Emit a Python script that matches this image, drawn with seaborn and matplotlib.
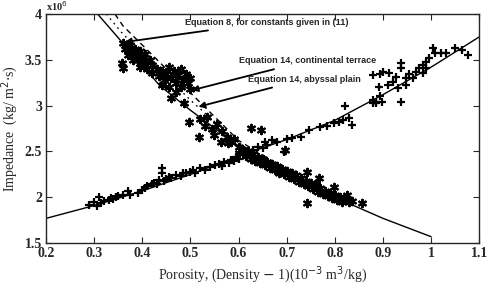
import numpy as np
import pandas as pd
import matplotlib
matplotlib.use("Agg")
import matplotlib.pyplot as plt
import seaborn as sns

# model curves (impedance in 1e6 kg/m^2/s)
eq8_x = [0.307, 0.36, 0.436, 0.5, 0.6, 0.7, 0.8, 0.9, 1.0]
eq8_y = [4.0, 3.68, 3.22, 2.95, 2.56, 2.27, 2.0, 1.77, 1.57]
cont_x = [0.343, 0.36, 0.45, 0.5, 0.6, 0.7, 0.8]
cont_y = [4.0, 3.87, 3.4, 3.14, 2.62, 2.3, 2.0]
abys_x = [0.325, 0.36, 0.45, 0.5, 0.6, 0.7, 0.8]
abys_y = [4.0, 3.78, 3.32, 3.06, 2.59, 2.28, 2.0]
rise_x = [0.2, 0.3, 0.4, 0.5, 0.6, 0.7, 0.8, 0.9, 1.0, 1.1]
rise_y = [1.77, 1.91, 2.07, 2.25, 2.45, 2.63, 2.84, 3.12, 3.42, 3.75]

# measured points, descending set (asterisks)
star_x = [0.36, 0.365, 0.37, 0.375, 0.38, 0.385, 0.39, 0.39, 0.395, 0.4, 0.4, 0.405,
          0.41, 0.41, 0.415, 0.42, 0.42, 0.37, 0.38, 0.395, 0.357, 0.36,
          0.43, 0.435, 0.44, 0.445, 0.45, 0.455, 0.46, 0.465, 0.47, 0.475, 0.48, 0.48,
          0.485, 0.49, 0.495, 0.5, 0.5, 0.44, 0.455, 0.47,
          0.46, 0.487, 0.497, 0.518, 0.52, 0.53, 0.535, 0.545, 0.548, 0.563, 0.555,
          0.565, 0.575, 0.585, 0.59, 0.626, 0.647, 0.579,
          0.6, 0.6, 0.61, 0.615, 0.62, 0.625, 0.63, 0.635, 0.64, 0.645, 0.65, 0.655,
          0.66, 0.665, 0.67, 0.675, 0.68, 0.685, 0.69, 0.695, 0.7, 0.705, 0.71, 0.715,
          0.72, 0.725, 0.73, 0.735, 0.74, 0.745, 0.75, 0.755, 0.76, 0.765, 0.77, 0.775,
          0.78, 0.785, 0.79, 0.795, 0.8, 0.805, 0.81, 0.815, 0.82, 0.83, 0.835,
          0.696, 0.743, 0.768, 0.798, 0.825, 0.856, 0.743]
star_y = [3.68, 3.62, 3.6, 3.66, 3.58, 3.62, 3.55, 3.5, 3.6, 3.52, 3.45, 3.56,
          3.48, 3.4, 3.5, 3.44, 3.36, 3.55, 3.5, 3.42, 3.46, 3.41,
          3.4, 3.32, 3.38, 3.28, 3.35, 3.42, 3.3, 3.38, 3.25, 3.33, 3.4, 3.2,
          3.28, 3.35, 3.25, 3.3, 3.18, 3.22, 3.2, 3.15,
          3.08, 3.03, 2.82, 2.66, 2.85, 2.78, 2.88, 2.74, 2.68, 2.6, 2.8,
          2.72, 2.66, 2.6, 2.64, 2.76, 2.73, 2.59,
          2.55, 2.48, 2.52, 2.45, 2.5, 2.42, 2.47, 2.4, 2.44, 2.37, 2.42, 2.35,
          2.39, 2.32, 2.36, 2.3, 2.34, 2.27, 2.31, 2.25, 2.29, 2.22, 2.26, 2.2,
          2.24, 2.17, 2.21, 2.14, 2.18, 2.12, 2.16, 2.09, 2.13, 2.06, 2.1, 2.04,
          2.07, 2.01, 2.05, 1.99, 2.03, 1.97, 2.0, 1.95, 1.98, 1.95, 1.96,
          2.52, 2.28, 2.21, 2.11, 2.02, 1.94, 1.94]

# measured points, rising set (plus signs)
plus_x = [0.29, 0.3, 0.305, 0.31, 0.315, 0.32, 0.33, 0.335, 0.34, 0.345, 0.35, 0.36,
          0.37, 0.375, 0.39, 0.4, 0.405, 0.41, 0.42, 0.425, 0.43, 0.435, 0.44, 0.44,
          0.445, 0.45, 0.455, 0.46, 0.47, 0.48, 0.485, 0.49, 0.5, 0.505, 0.51, 0.52,
          0.53, 0.54, 0.55, 0.56, 0.565, 0.57, 0.58, 0.585, 0.59, 0.595, 0.6, 0.61,
          0.62, 0.63, 0.64, 0.65, 0.655, 0.66, 0.67, 0.68, 0.695, 0.7, 0.71,
          0.729, 0.747, 0.77, 0.784, 0.798, 0.808, 0.818, 0.829, 0.835, 0.821,
          0.88, 0.886, 0.88, 0.893, 0.9, 0.891, 0.886, 0.897, 0.893, 0.88, 0.938,
          0.938, 0.938, 0.913, 0.921, 0.927, 0.948, 0.954, 0.968, 0.975, 0.983,
          0.989, 0.995, 1.005, 1.009, 1.02, 1.03, 1.05, 1.065, 1.077, 0.948, 0.931,
          0.91, 0.962, 0.983, 0.989]
plus_y = [1.92, 1.95, 1.9, 2.0, 1.94, 1.96, 1.97, 1.99, 1.98, 2.0, 2.01, 2.02,
          2.07, 2.03, 2.05, 2.08, 2.1, 2.12, 2.14, 2.16, 2.15, 2.19, 2.32, 2.26,
          2.18, 2.2, 2.22, 2.21, 2.24, 2.23, 2.26, 2.27, 2.28, 2.3, 2.27, 2.32,
          2.3, 2.33, 2.35, 2.36, 2.34, 2.38, 2.37, 2.41, 2.4, 2.44, 2.42, 2.46,
          2.5, 2.52, 2.55, 2.54, 2.6, 2.57, 2.62, 2.6, 2.49, 2.64, 2.65,
          2.66, 2.73, 2.77, 2.78, 2.81, 2.82, 2.84, 2.86, 2.79, 3.0,
          3.06, 3.03, 3.33, 3.35, 3.37, 3.2, 3.04, 3.04, 3.1, 3.03, 3.04,
          3.46, 3.41, 3.36, 3.26, 3.31, 3.3, 3.35, 3.37, 3.41, 3.44,
          3.48, 3.52, 3.63, 3.57, 3.57, 3.57, 3.63, 3.61, 3.55, 3.22, 3.19,
          3.22, 3.3, 3.36, 3.41]

sns.set_style("ticks")
plt.rcParams["font.family"] = ["Liberation Serif", "DejaVu Serif"]

fig = plt.figure(figsize=(4.9, 2.86), dpi=100)
ax = fig.add_axes([0.094, 0.150, 0.884, 0.801])

stars = pd.DataFrame({"x": star_x, "y": star_y})
pluses = pd.DataFrame({"x": plus_x, "y": plus_y})
sns.scatterplot(data=stars, x="x", y="y", marker=(6, 2, 0), s=28, color="black",
                linewidth=1.6, ax=ax)
sns.scatterplot(data=pluses, x="x", y="y", marker="+", s=28, color="black",
                linewidth=1.6, ax=ax)

sns.lineplot(x=eq8_x, y=eq8_y, color="black", lw=1.0, estimator=None, ax=ax)
sns.lineplot(x=cont_x, y=cont_y, color="black", lw=1.0, ls=(0, (4, 3)), estimator=None, ax=ax)
sns.lineplot(x=abys_x, y=abys_y, color="black", lw=1.0, ls=(0, (1.2, 3)), estimator=None, ax=ax)
sns.lineplot(x=rise_x, y=rise_y, color="black", lw=1.0, estimator=None, ax=ax)

ax.set_xlim(0.2, 1.1)
ax.set_ylim(1.5, 4.0)
ax.set_xticks(np.arange(0.2, 1.15, 0.1))
ax.set_xticklabels(["0.2", "0.3", "0.4", "0.5", "0.6", "0.7", "0.8", "0.9", "1", "1.1"])
ax.set_yticks([1.5, 2, 2.5, 3, 3.5, 4])
ax.set_yticklabels(["1.5", "2", "2.5", "3", "3.5", "4"])
ax.tick_params(direction="in", top=True, right=True, length=4, width=0.8,
               labelsize=10, pad=3)
for lab in ax.get_xticklabels() + ax.get_yticklabels():
    lab.set_fontweight("bold")
for sp in ax.spines.values():
    sp.set_linewidth(1.0)
    sp.set_visible(True)

ax.text(0.0, 1.004, "x10$^6$", transform=ax.transAxes, fontsize=7.5,
        fontweight="bold", ha="left", va="bottom")

ax.set_xlabel("Porosity, (Density $-$ 1)(10$^{-3}$ m$^3$/kg)", fontsize=10, labelpad=3)
ax.set_ylabel("Impedance  (kg/ m$^2$$\\cdot$s)", fontsize=10, labelpad=3)

sans = ["Liberation Sans", "DejaVu Sans"]
arrow = dict(arrowstyle="-|>", color="black", lw=1.3, mutation_scale=9)
ax.annotate("Equation 8, for constants given in (11)", xy=(0.358, 3.69),
            xytext=(0.488, 3.91), fontsize=6.5, fontweight="bold", family=sans,
            va="center", arrowprops=arrow)
ax.annotate("Equation 14, continental terrace", xy=(0.497, 3.16),
            xytext=(0.6, 3.49), fontsize=6.5, fontweight="bold", family=sans,
            va="center", arrowprops=arrow)
ax.annotate("Equation 14, abyssal plain", xy=(0.511, 2.98),
            xytext=(0.62, 3.29), fontsize=6.5, fontweight="bold", family=sans,
            va="center", arrowprops=arrow)

fig.savefig("out.png", dpi=100)
